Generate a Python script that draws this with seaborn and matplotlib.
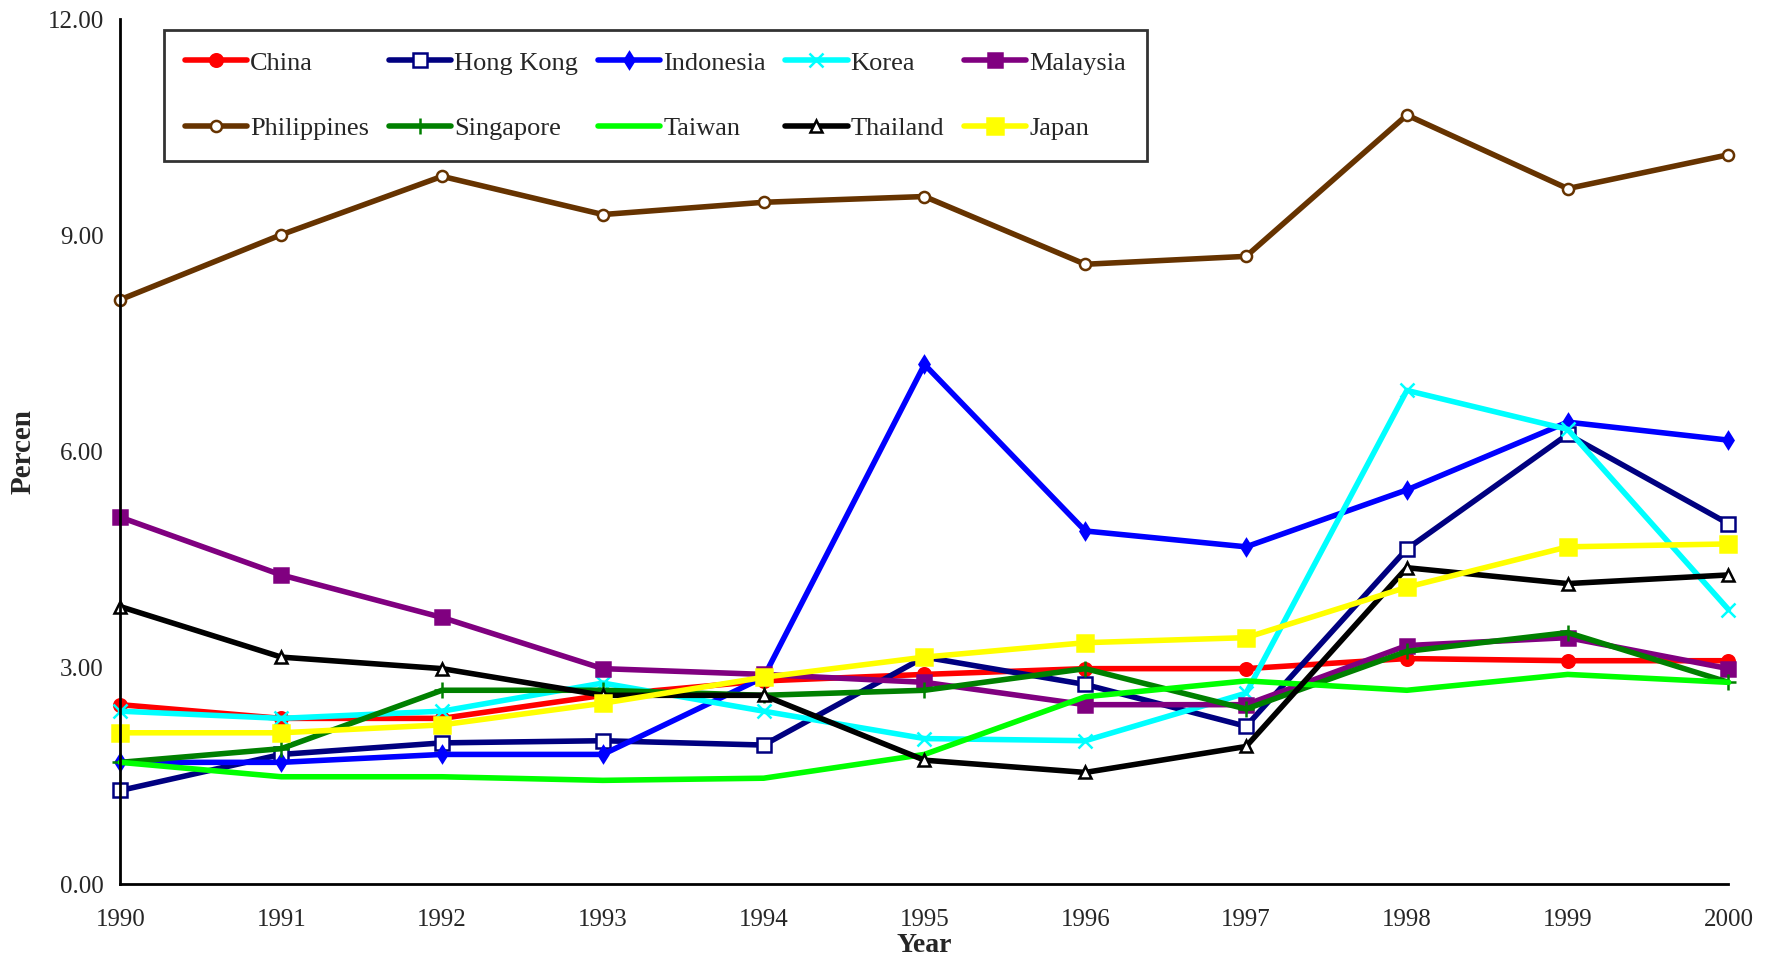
import pandas as pd
import matplotlib
matplotlib.use("Agg")
import matplotlib.pyplot as plt
import seaborn as sns

# --- Data ---
years = list(range(1990, 2001))

china = [2.49, 2.30, 2.30, 2.62, 2.82, 2.91, 2.99, 2.99, 3.13, 3.10, 3.10]
hong_kong = [1.30, 1.80, 1.96, 1.99, 1.93, 3.15, 2.77, 2.19, 4.65, 6.24, 5.00]
indonesia = [1.69, 1.69, 1.80, 1.80, 2.87, 7.21, 4.90, 4.68, 5.47, 6.41, 6.16]
korea = [2.40, 2.30, 2.40, 2.79, 2.40, 2.02, 1.99, 2.65, 6.85, 6.31, 3.81]
malaysia = [5.09, 4.29, 3.70, 2.99, 2.91, 2.80, 2.49, 2.49, 3.31, 3.42, 2.99]
philippines = [8.11, 9.01, 9.82, 9.29, 9.46, 9.54, 8.60, 8.71, 10.67, 9.65, 10.12]
singapore = [1.69, 1.88, 2.69, 2.69, 2.62, 2.69, 2.99, 2.43, 3.23, 3.49, 2.80]
taiwan = [1.69, 1.49, 1.49, 1.44, 1.47, 1.80, 2.60, 2.82, 2.69, 2.91, 2.80]
thailand = [3.85, 3.15, 2.99, 2.62, 2.62, 1.72, 1.55, 1.91, 4.39, 4.17, 4.29]
japan = [2.10, 2.10, 2.21, 2.51, 2.87, 3.15, 3.35, 3.42, 4.12, 4.68, 4.72]

countries = ["China", "Hong Kong", "Indonesia", "Korea", "Malaysia",
             "Philippines", "Singapore", "Taiwan", "Thailand", "Japan"]
series = [china, hong_kong, indonesia, korea, malaysia,
          philippines, singapore, taiwan, thailand, japan]

df = pd.DataFrame({c: v for c, v in zip(countries, series)}, index=years)
df.index.name = "Year"

# --- Styles per country: (line colour, marker, face colour, marker size) ---
styles = {
    "China":       ("#FF0000", "o", "#FF0000", 9),
    "Hong Kong":   ("#000080", "s", "white", 10),
    "Indonesia":   ("#0000FF", "d", "#0000FF", 8),
    "Korea":       ("#00FFFF", "x", "#00FFFF", 10),
    "Malaysia":    ("#800080", "s", "#800080", 10),
    "Philippines": ("#663300", "o", "white", 8),
    "Singapore":   ("#008000", "+", "#008000", 11),
    "Taiwan":      ("#00FF00", None, "#00FF00", 0),
    "Thailand":    ("#000000", "^", "white", 9),
    "Japan":       ("#FFFF00", "s", "#FFFF00", 11),
}

sns.set_style("white")
plt.rcParams['font.family'] = ['Liberation Serif', 'DejaVu Serif']

fig, ax = plt.subplots(figsize=(17.71, 9.6), dpi=100)
fig.subplots_adjust(left=0.068, right=0.976, top=0.980, bottom=0.079)

for name in countries:
    color, marker, face, ms = styles[name]
    sns.lineplot(x=df.index, y=df[name], ax=ax, color=color, linewidth=4.0,
                 marker=marker, markersize=ms, markerfacecolor=face,
                 markeredgecolor=color, markeredgewidth=1.8,
                 label=name, clip_on=False)

ax.set_xlim(1990, 2000)
ax.set_ylim(0, 12)
ax.set_xticks(years)
ax.set_yticks([0, 3, 6, 9, 12])
ax.set_yticklabels([f"{v:.2f}" for v in [0, 3, 6, 9, 12]])
ax.tick_params(axis='both', direction='out', length=8, width=2, labelsize=18)
ax.tick_params(axis='x', pad=10)
ax.tick_params(axis='y', pad=4)

for side in ['top', 'right']:
    ax.spines[side].set_visible(False)
for side in ['left', 'bottom']:
    ax.spines[side].set_color('black')
    ax.spines[side].set_linewidth(2)

ax.set_xlabel("Year", fontsize=20, fontweight='bold', labelpad=1)
ax.set_ylabel("Percen", fontsize=21, fontweight='bold', labelpad=8)

# legend filled row by row (matplotlib fills columns first)
handles, labels = ax.get_legend_handles_labels()
lookup = dict(zip(labels, handles))
order = []
for i in range(5):
    order += [countries[i], countries[i + 5]]
leg = ax.legend([lookup[n] for n in order], order, loc='upper left',
                bbox_to_anchor=(0.0274, 0.987), borderaxespad=0, ncol=5,
                fontsize=19, frameon=True, fancybox=False, edgecolor='black',
                handlelength=2.35, handletextpad=0.12, columnspacing=0.75,
                labelspacing=1.6, borderpad=0.78)
leg.get_frame().set_linewidth(2)

plt.savefig("out.png", dpi=100)
